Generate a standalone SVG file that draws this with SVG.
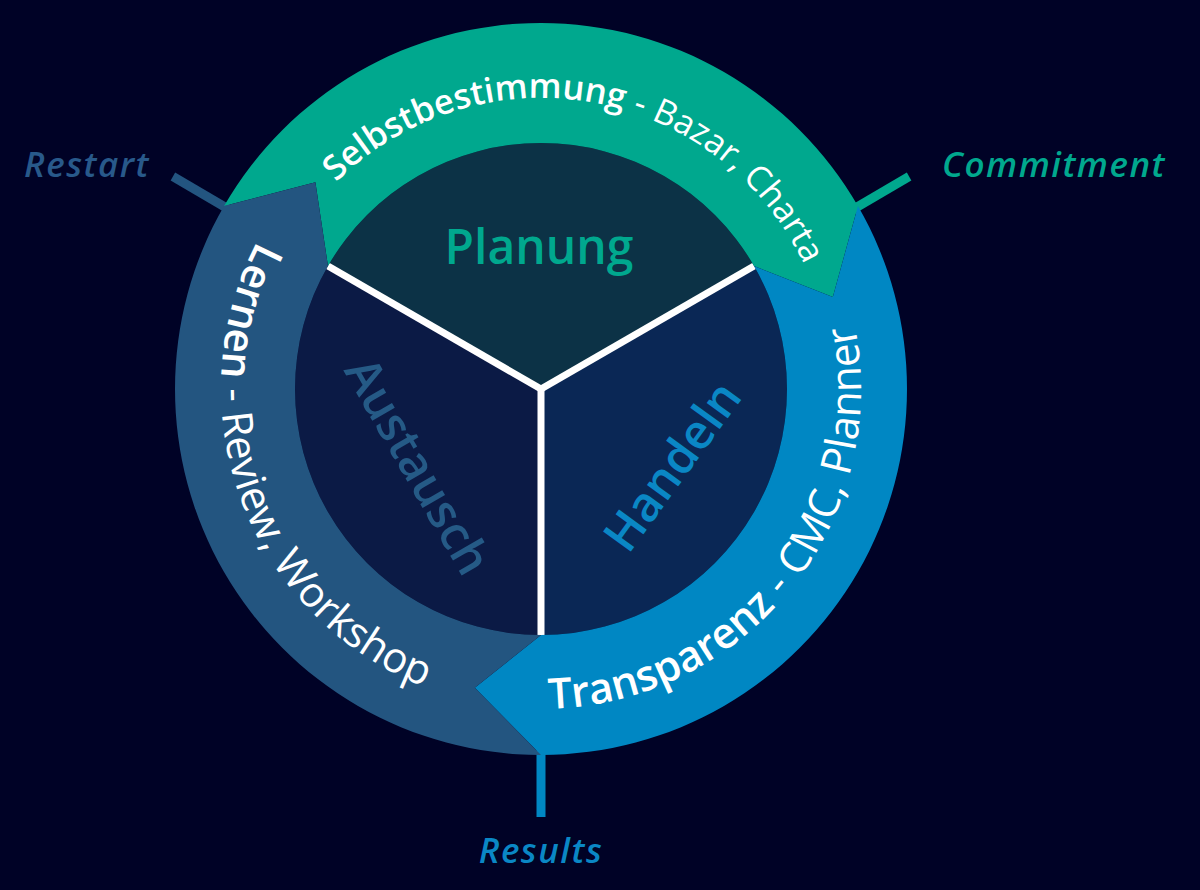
<svg xmlns="http://www.w3.org/2000/svg" width="1200" height="890" viewBox="0 0 1200 890">
  <style>
    .lbl { font-family: "Open Sans", "Liberation Sans", sans-serif; font-style: italic; font-weight: 600; font-size: 35px; letter-spacing: 1.5px; text-anchor: middle; }
    .arc { font-family: "Open Sans", "Liberation Sans", sans-serif; fill: #ffffff; }
    .b { font-weight: 600; }
    .r { font-weight: 400; }
    .phase { font-family: "Open Sans", "Liberation Sans", sans-serif; font-weight: 600; font-size: 48px; text-anchor: middle; }
    .tick { stroke-width: 9; fill: none; }
    .div { stroke: #ffffff; stroke-width: 7; stroke-linecap: butt; }
  </style>
  <defs>
    <path id="pSelbst" d="M 267.55 488.52 A 291 291 0 1 1 763.92 576.05"/>
    <path id="pTrans" d="M 243.27 506.28 A 320 320 0 1 0 588.3 72.52"/>
    <path id="pLern" d="M 593.82 73.39 A 320 320 0 1 0 787.92 592.55"/>
  </defs>
  <rect x="0" y="0" width="1200" height="890" fill="#000226"/>

  <g id="connectors">
    <line class="tick" x1="230" y1="210" x2="172.9" y2="176.5" stroke="#235580"/>
    <line class="tick" x1="852" y1="210" x2="909.1" y2="176.5" stroke="#00a88e"/>
    <line class="tick" x1="541" y1="750" x2="541" y2="817" stroke="#0087c3"/>
  </g>

  <g id="inner">
    <g id="planung">
      <path d="M 541 389 L 327.96 266 A 246 246 0 0 1 754.04 266 Z" fill="#0c3246"/>
      <text class="phase" x="539" y="264" fill="#00a88e" font-size="47">Planung</text>
    </g>
    <g id="handeln">
      <path d="M 541 389 L 754.04 266 A 246 246 0 0 1 541 635 Z" fill="#0a2755"/>
      <text class="phase" transform="translate(672 466) rotate(-54)" x="0" y="17" fill="#0a87c5">Handeln</text>
    </g>
    <g id="austausch">
      <path d="M 541 389 L 541 635 A 246 246 0 0 1 327.96 266 Z" fill="#0b1a45"/>
      <text class="phase" transform="translate(418 466) rotate(60)" x="0" y="17" fill="#255a86">Austausch</text>
    </g>
    <line class="div" x1="541" y1="389" x2="327.96" y2="266"/>
    <line class="div" x1="541" y1="389" x2="754.04" y2="266"/>
    <line class="div" x1="541" y1="389" x2="541" y2="635"/>
  </g>

  <g id="selbstbestimmung">
    <path d="M 224.04 206 A 366 366 0 0 1 857.96 206 L 832.84 296.98 L 754.04 266 A 246 246 0 0 0 327.96 266 L 315.39 182.27 Z" fill="#00a88e"/>
    <text class="arc" font-size="34.5"><textPath href="#pSelbst" startOffset="50%" text-anchor="middle"><tspan class="b">Selbstbestimmung</tspan><tspan class="r"> - Bazar, Charta</tspan></textPath></text>
  </g>

  <g id="transparenz">
    <path d="M 857.96 206 A 366 366 0 0 1 541 755 L 474.77 687.75 L 541 635 A 246 246 0 0 0 754.04 266 L 832.84 296.98 Z" fill="#0087c3"/>
    <text class="arc" font-size="42.5"><textPath href="#pTrans" startOffset="50%" text-anchor="middle"><tspan class="b">Transparenz</tspan><tspan class="r"> - CMC, Planner</tspan></textPath></text>
  </g>

  <g id="lernen">
    <path d="M 541 755 A 366 366 0 0 1 224.04 206 L 315.39 182.27 L 327.96 266 A 246 246 0 0 0 541 635 L 474.77 687.75 Z" fill="#235580"/>
    <text class="arc" font-size="42"><textPath href="#pLern" startOffset="50%" text-anchor="middle"><tspan class="b">Lernen</tspan><tspan class="r"> - Review, Workshop</tspan></textPath></text>
  </g>

  <g id="labels">
    <text id="restart" class="lbl" x="87" y="177" fill="#28598a">Restart</text>
    <text id="commitment" class="lbl" x="1054" y="177" fill="#00a88e">Commitment</text>
    <text id="results" class="lbl" x="541" y="863" fill="#0a87c5">Results</text>
  </g>
</svg>
